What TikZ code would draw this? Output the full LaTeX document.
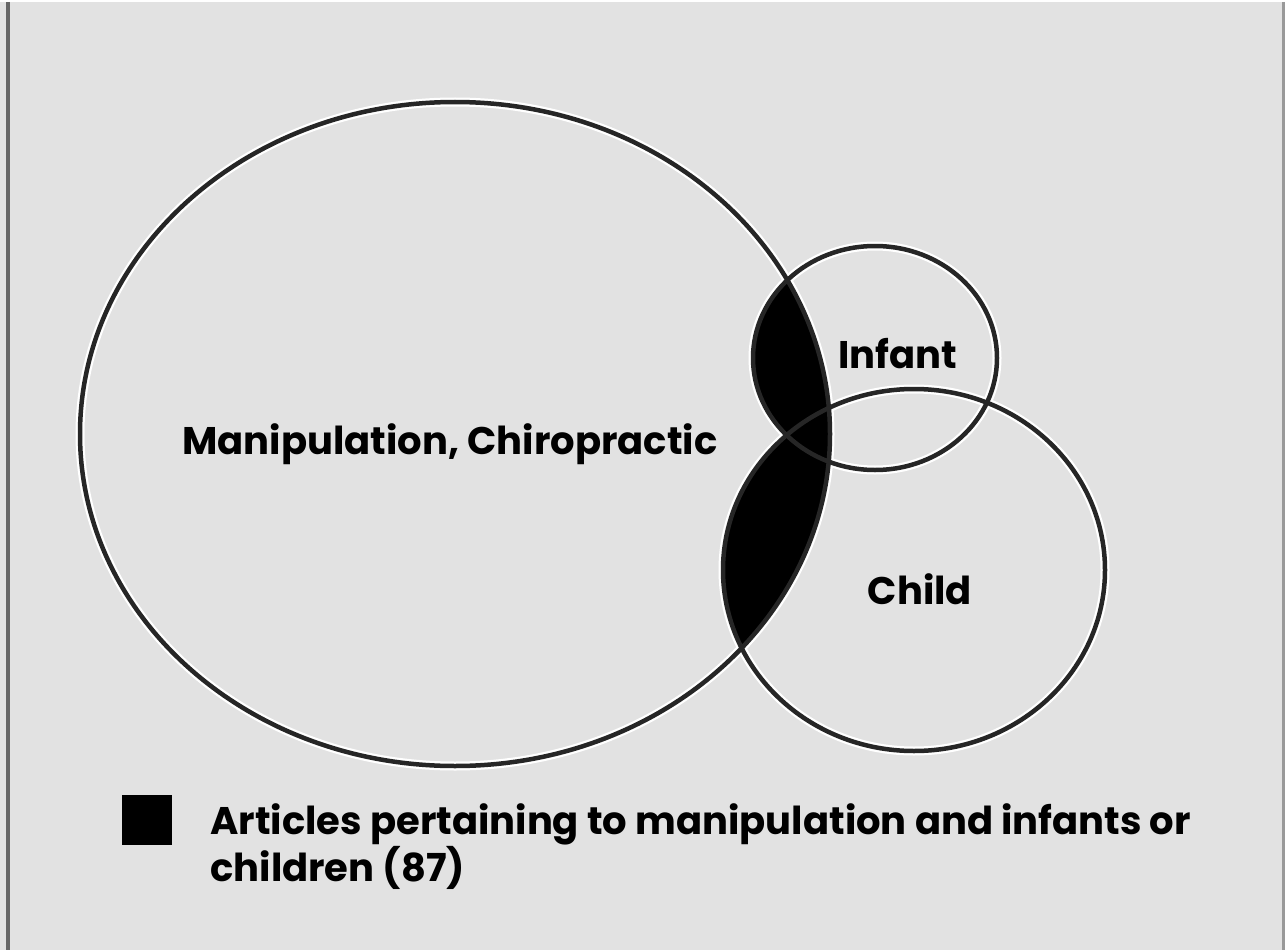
\documentclass[tikz,border=0pt]{standalone}
\usepackage{fontspec}
\setmainfont{Poppins}
\usetikzlibrary{positioning}
\definecolor{paper}{HTML}{E2E2E2}

\begin{document}
\begin{tikzpicture}[x=1pt,y=-1pt,
  every node/.style={font=\fontsize{38.5}{40}\selectfont\bfseries,inner sep=0pt},
  rim/.style={draw=black!85,line width=4.5pt},
  halo/.style={draw=white,line width=9pt}]
\fill[paper] (0,0) rectangle (1285,948);
\draw[black!60,line width=4pt] (8,0) -- (8,948);
\draw[black!40,line width=3pt] (1283,0) -- (1283,948);
% white halo under the outlines
\draw[halo] (455,432) ellipse [x radius=375,y radius=332];
\draw[halo] (875,356) ellipse [x radius=122,y radius=112];
\draw[halo] (914,568) ellipse [x radius=191,y radius=181];
% shaded: manipulation and (infant or child)
\begin{scope}
\clip (455,432) ellipse [x radius=375,y radius=332];
\fill[black] (875,356) ellipse [x radius=122,y radius=112];
\fill[black] (914,568) ellipse [x radius=191,y radius=181];
\end{scope}
\draw[rim] (455,432) ellipse [x radius=375,y radius=332];
\draw[rim] (875,356) ellipse [x radius=122,y radius=112];
\draw[rim] (914,568) ellipse [x radius=191,y radius=181];
\node (manip) at (450,442) {Manipulation, Chiropractic};
\node (infant) at (898,352) {Infant};
\node (child) at (920,587) {Child};
% key
\node[fill=black,minimum size=50pt] (key) at (147,818) {};
\node[anchor=north west,align=left] (keytext) at ([xshift=38pt,yshift=-9pt]key.north east)
  {Articles pertaining to manipulation and infants or\\children (87)};
\end{tikzpicture}
\end{document}
